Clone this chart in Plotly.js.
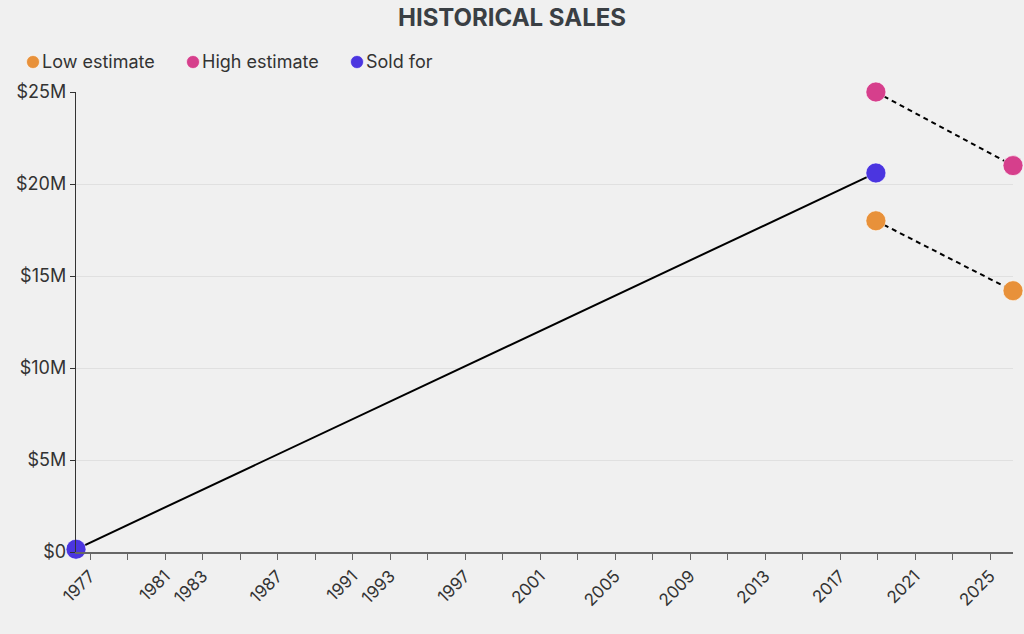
<!DOCTYPE html>
<html>
<head>
<meta charset="utf-8">
<script src="https://cdn.plot.ly/plotly-3.0.1.min.js"></script>
<style>
  html, body { margin: 0; padding: 0; background: #f0f0f0; }
  #chart { width: 1024px; height: 634px; }
</style>
</head>
<body>
<div id="chart"></div>
<script>
// ---- data ----
const seriesNames = ["Low estimate", "High estimate", "Sold for"];
const seriesColors = ["#e8913a", "#d63f8c", "#4b35e0"];
const soldDates = ["1976-04-01", "2018-12-01"];
const soldValues = [150000, 20600000];
const estimateDates = ["2018-12-01", "2026-03-25"];
const lowValues = [18000000, 14200000];
const highValues = [25000000, 21000000];
const tickYears = [1977,1979,1981,1983,1985,1987,1989,1991,1993,1995,1997,1999,2001,2003,2005,2007,2009,2011,2013,2015,2017,2019,2021,2023,2025];
const labeledYears = [1977,1981,1983,1987,1991,1993,1997,2001,2005,2009,2013,2017,2021,2025];
const yTickValues = [0, 5000000, 10000000, 15000000, 20000000, 25000000];
const yTickLabels = ["$0", "$5M", "$10M", "$15M", "$20M", "$25M"];

const FONT = "Inter, 'Noto Sans', sans-serif";

function markerStyle(color) {
  return { size: 20, color: color, line: { width: 1, color: "rgba(255,255,255,0.6)" } };
}

const traces = [
  {
    x: soldDates, y: soldValues, type: "scatter", mode: "lines+markers",
    line: { color: "#000", width: 2 }, marker: markerStyle(seriesColors[2]),
    name: seriesNames[2], showlegend: false, cliponaxis: false, hoverinfo: "skip"
  },
  {
    x: estimateDates, y: highValues, type: "scatter", mode: "lines+markers",
    line: { color: "#000", width: 2, dash: "5px,4px" }, marker: markerStyle(seriesColors[1]),
    name: seriesNames[1], showlegend: false, cliponaxis: false, hoverinfo: "skip"
  },
  {
    x: estimateDates, y: lowValues, type: "scatter", mode: "lines+markers",
    line: { color: "#000", width: 2, dash: "5px,4px" }, marker: markerStyle(seriesColors[0]),
    name: seriesNames[0], showlegend: false, cliponaxis: false, hoverinfo: "skip"
  }
];

const W = 1024, H = 634, ML = 76, MR = 11, MT = 92, MB = 82;
const PW = W - ML - MR, PH = H - MT - MB;
const legendPx = [26, 186, 350];
const legendY = 62;
const shapes = [], annotations = [];
seriesNames.forEach((name, i) => {
  const px = (legendPx[i] + 7 - ML) / PW;
  const py = (H - MB - legendY) / PH;
  shapes.push({
    type: "circle", xref: "paper", yref: "paper",
    xsizemode: "pixel", ysizemode: "pixel", xanchor: px, yanchor: py,
    x0: -6.5, x1: 6.5, y0: -6.5, y1: 6.5,
    fillcolor: seriesColors[i], line: { width: 1, color: "rgba(255,255,255,0.6)" }
  });
  annotations.push({
    xref: "paper", yref: "paper", x: (legendPx[i] + 14 - ML) / PW, y: py,
    xanchor: "left", yanchor: "middle", showarrow: false, text: name,
    font: { family: FONT, size: 18, color: "#333" }
  });
});

const layout = {
  width: W, height: H,
  paper_bgcolor: "#f0f0f0", plot_bgcolor: "#f0f0f0",
  margin: { l: ML, r: MR, t: MT, b: MB, pad: 0 },
  showlegend: false,
  title: {
    text: "<b>HISTORICAL SALES</b>", xref: "container", x: 0.5, xanchor: "center",
    yref: "container", y: 1 - 18 / H, yanchor: "middle",
    font: { family: FONT, size: 24, color: "#3a3f44" }
  },
  xaxis: {
    type: "date", range: ["1976-04-01", "2026-03-25"],
    tickvals: tickYears.map(y => y + "-01-01"),
    ticktext: tickYears.map(y => labeledYears.includes(y) ? String(y) : ""),
    tickangle: -45, ticks: "outside", ticklen: 6, tickwidth: 1, tickcolor: "#666",
    showline: true, linecolor: "#666", linewidth: 1.5,
    showgrid: false, zeroline: false,
    tickfont: { family: FONT, size: 17, color: "#333" }, automargin: false
  },
  yaxis: {
    range: [0, 25000000], tickvals: yTickValues, ticktext: yTickLabels,
    ticks: "outside", ticklen: 5, tickwidth: 1, tickcolor: "#333",
    showline: true, linecolor: "#333", linewidth: 1.2,
    showgrid: true, gridcolor: "#e0e0e0", gridwidth: 1, zeroline: false,
    tickfont: { family: FONT, size: 18, color: "#333" }, automargin: false
  },
  shapes: shapes,
  annotations: annotations
};

Plotly.newPlot("chart", traces, layout, { displayModeBar: false, staticPlot: true });
</script>
</body>
</html>
